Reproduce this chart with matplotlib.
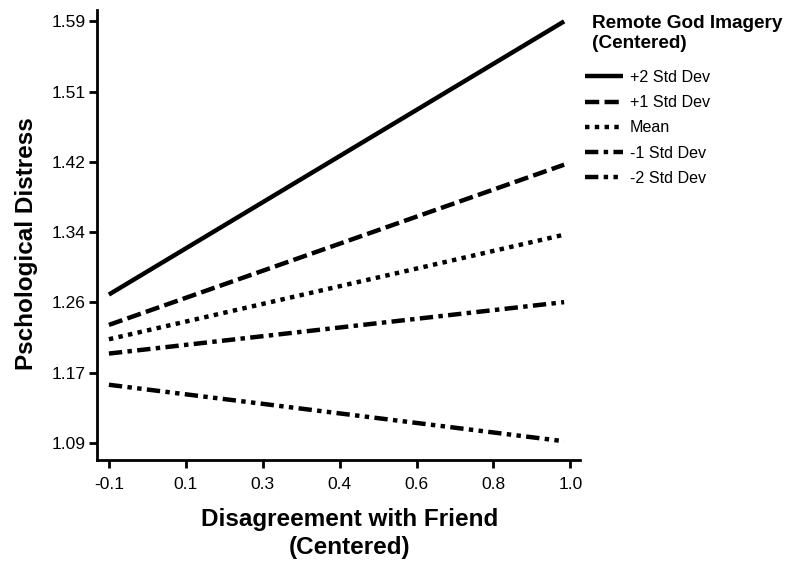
import numpy as np
import matplotlib.pyplot as plt

plt.rcParams['font.family'] = ['Liberation Sans', 'DejaVu Sans']

# data
x_vals = [-0.1, 0.985]
series_names = ['+2 Std Dev', '+1 Std Dev', 'Mean', '-1 Std Dev', '-2 Std Dev']
y_start = [1.266, 1.230, 1.213, 1.196, 1.159]
y_end = [1.590, 1.420, 1.337, 1.257, 1.092]

xtick_pos = np.linspace(-0.1, 1.0, 7)
xtick_labels = ['-0.1', '0.1', '0.3', '0.4', '0.6', '0.8', '1.0']
ytick_pos = np.linspace(1.09, 1.59, 7)
ytick_labels = ['1.09', '1.17', '1.26', '1.34', '1.42', '1.51', '1.59']

dashes = [None, (3.2, 1.2), (1, 1.2), (3.0, 1.2, 1, 1.2), (3.0, 1.2, 1, 1.2, 1, 1.2)]

fig = plt.figure(figsize=(7.93, 5.63), dpi=100)
ax = fig.add_axes([0.122, 0.183, 0.61, 0.80])

for name, y0, y1, d in zip(series_names, y_start, y_end, dashes):
    line, = ax.plot(x_vals, [y0, y1], color='black', lw=3.2, label=name,
                    solid_capstyle='butt', dash_capstyle='butt')
    if d is not None:
        line.set_dashes(d)

ax.set_xlim(-0.129, 1.024)
ax.set_ylim(1.0698, 1.604)
ax.set_xticks(xtick_pos)
ax.set_xticklabels(xtick_labels)
ax.set_yticks(ytick_pos)
ax.set_yticklabels(ytick_labels)
ax.tick_params(direction='out', length=6, width=2, labelsize=12.5, pad=6)
ax.tick_params(axis='y', pad=2)
for s in ['top', 'right']:
    ax.spines[s].set_visible(False)
for s in ['left', 'bottom']:
    ax.spines[s].set_linewidth(2)

ax.set_xlabel('Disagreement with Friend\n(Centered)', fontsize=17.5, fontweight='bold',
              linespacing=1.25)
ax.xaxis.set_label_coords(0.523, -0.107)
ax.xaxis.label.set_va('top')
ax.set_ylabel('Pschological Distress', fontsize=17.5, fontweight='bold')
ax.yaxis.set_label_coords(-0.121, 0.48)

# legend title drawn separately so the gap to the entries can match
fig.text(0.746, 0.973, 'Remote God Imagery\n(Centered)', fontsize=13.7,
         fontweight='bold', va='top', ha='left', linespacing=1.2)
leg = ax.legend(loc='upper left', bbox_to_anchor=(0.996, 0.88), frameon=False,
                fontsize=11.6, handlelength=2.35, handletextpad=0.45,
                labelspacing=0.63, borderaxespad=0)

fig.savefig('out.png', dpi=100)
